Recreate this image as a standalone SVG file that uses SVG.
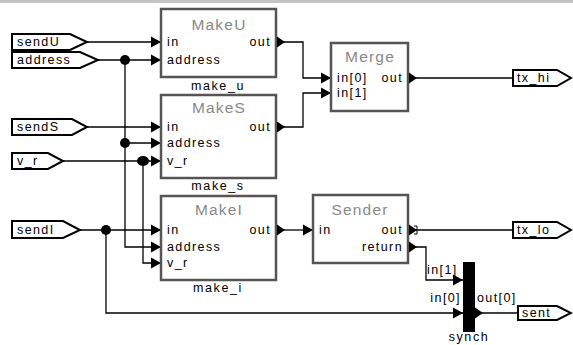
<svg xmlns="http://www.w3.org/2000/svg" width="573" height="345" viewBox="0 0 573 345">
<style>
.box{fill:#fff;stroke:#555;stroke-width:2.5}
.port{fill:#fff;stroke:#000;stroke-width:2}
.w{fill:none;stroke:#000;stroke-width:1.3}
.t{font-family:"Liberation Sans",Arial,sans-serif;font-size:12.5px;letter-spacing:1.4px;fill:#000}
.ti{font-family:"Liberation Sans",Arial,sans-serif;font-size:15.5px;letter-spacing:1.2px;fill:#888;text-anchor:middle}
.nm{font-family:"Liberation Sans",Arial,sans-serif;font-size:12.5px;letter-spacing:1.6px;fill:#000;text-anchor:middle}
.e{text-anchor:end}
</style>
<defs>
<polygon id="ain" points="-10,-5.5 0,0 -10,5.5"/>
<polygon id="aout" points="0,-5.5 8,0 0,5.5"/>
</defs>
<rect x="0" y="0" width="573" height="3" fill="#c4c4c4"/>
<g id="connectors">
<polyline class="w" points="87,42 161,42"/>
<polyline class="w" points="98,60 161,60"/>
<polyline class="w" points="125,60 125,247 161,247"/>
<polyline class="w" points="125,143 161,143"/>
<polyline class="w" points="87,127 161,127"/>
<polyline class="w" points="63,161 161,161"/>
<polyline class="w" points="143,161 143,263 161,263"/>
<polyline class="w" points="80,230 161,230"/>
<polyline class="w" points="106,230 106,313 463,313"/>
<polyline class="w" points="283,42 303,42 303,78 331,78"/>
<polyline class="w" points="283,127 303,127 303,93 331,93"/>
<polyline class="w" points="415,78 513,78"/>
<polyline class="w" points="283,230 313,230"/>
<polyline class="w" points="415,230 513,230"/>
<polyline class="w" points="415,247 426,247 426,280 463,280"/>
<polyline class="w" points="482,313 518,313"/>
<circle cx="125" cy="60" r="5"/>
<circle cx="125" cy="143" r="5"/>
<ellipse cx="143" cy="161" rx="6" ry="5"/>
<circle cx="106" cy="230" r="5"/>
<use href="#ain" x="161" y="42"/>
<use href="#ain" x="161" y="60"/>
<use href="#ain" x="161" y="127"/>
<use href="#ain" x="161" y="143"/>
<use href="#ain" x="161" y="161"/>
<use href="#ain" x="161" y="230"/>
<use href="#ain" x="161" y="247"/>
<use href="#ain" x="161" y="263"/>
<use href="#ain" x="331" y="78"/>
<use href="#ain" x="331" y="93"/>
<use href="#ain" x="313" y="230"/>
<use href="#ain" x="463" y="280"/>
<use href="#ain" x="463" y="313"/>
</g>
<g id="sendU"><polygon class="port" points="12,34 70,34 87,42 70,50 12,50"/><text class="t" x="17" y="46">sendU</text></g>
<g id="address"><polygon class="port" points="12,52 80,52 98,60 80,68 12,68"/><text class="t" x="17" y="64">address</text></g>
<g id="sendS"><polygon class="port" points="12,119 72,119 87,127 72,135 12,135"/><text class="t" x="17" y="131">sendS</text></g>
<g id="v_r"><polygon class="port" points="12,153 48,153 63,161 48,169 12,169"/><text class="t" x="17" y="165">v_r</text></g>
<g id="sendI"><polygon class="port" points="12,221 63,221 80,230 63,238 12,238"/><text class="t" x="17" y="234">sendI</text></g>
<g id="make_u">
<rect class="box" x="161" y="9" width="115" height="68"/>
<text class="ti" x="219" y="30">MakeU</text>
<text class="t" x="167" y="46">in</text>
<text class="t" x="167" y="64">address</text>
<text class="t e" x="271" y="46">out</text>
<use href="#aout" x="277" y="42"/>
<text class="nm" x="218" y="90">make_u</text>
</g>
<g id="make_s">
<rect class="box" x="161" y="95" width="115" height="83"/>
<text class="ti" x="219" y="113">MakeS</text>
<text class="t" x="167" y="131">in</text>
<text class="t" x="167" y="147">address</text>
<text class="t" x="167" y="165">v_r</text>
<text class="t e" x="271" y="131">out</text>
<use href="#aout" x="277" y="127"/>
<text class="nm" x="218" y="190">make_s</text>
</g>
<g id="make_i">
<rect class="box" x="161" y="196" width="115" height="84"/>
<text class="ti" x="219" y="215">MakeI</text>
<text class="t" x="167" y="234">in</text>
<text class="t" x="167" y="251">address</text>
<text class="t" x="167" y="267">v_r</text>
<text class="t e" x="271" y="234">out</text>
<use href="#aout" x="277" y="230"/>
<text class="nm" x="218" y="292">make_i</text>
</g>
<g id="merge">
<rect class="box" x="331" y="43" width="77" height="68"/>
<text class="ti" x="370" y="62">Merge</text>
<text class="t" x="337" y="82">in[0]</text>
<text class="t" x="337" y="97">in[1]</text>
<text class="t e" x="403" y="82">out</text>
<use href="#aout" x="409" y="78"/>
</g>
<g id="sender">
<rect class="box" x="313" y="195" width="95" height="68"/>
<text class="ti" x="360" y="215">Sender</text>
<text class="t" x="319" y="234">in</text>
<text class="t e" x="403" y="234">out</text>
<text class="t e" x="403" y="251">return</text>
<use href="#aout" x="409" y="230"/>
<use href="#aout" x="409" y="247"/>
<path d="M414,226 H417 V234 H414" fill="none" stroke="#000" stroke-width="1"/>
</g>
<g id="synch">
<rect x="463" y="262" width="12" height="70" fill="#000"/>
<use href="#aout" x="475" y="313"/>
<text class="t" x="427" y="274">in[1]</text>
<text class="t e" x="461" y="302">in[0]</text>
<text class="t" x="477" y="302">out[0]</text>
<text class="nm" x="469" y="341">synch</text>
</g>
<g id="tx_hi"><polygon class="port" points="513,70 557,70 571,78 557,86 513,86"/><text class="t" x="517" y="82">tx_hi</text></g>
<g id="tx_lo"><polygon class="port" points="513,222 557,222 571,230 557,238 513,238"/><text class="t" x="517" y="234">tx_lo</text></g>
<g id="sent"><polygon class="port" points="518,306 557,306 571,313 557,320 518,320"/><text class="t" x="522" y="317">sent</text></g>
</svg>
